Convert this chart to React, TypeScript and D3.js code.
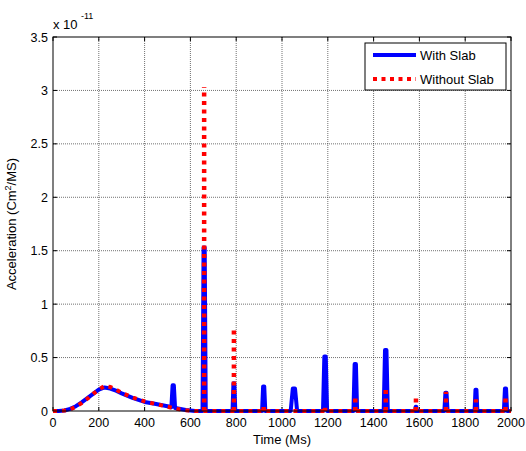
import React from "react";
import * as d3 from "d3";

// ---- data (units of 1e-11 Cm^2/MS, time in Ms) ----
const humpTimes = [0, 25, 50, 75, 100, 125, 150, 175, 200, 225, 250, 275, 300, 350, 400, 450, 500, 540, 580, 620];
const blueHump = [0, 0.001, 0.005, 0.02, 0.045, 0.08, 0.12, 0.16, 0.2, 0.22, 0.21, 0.19, 0.165, 0.12, 0.085, 0.065, 0.045, 0.025, 0.01, 0];
const redHump = [0, 0.001, 0.004, 0.015, 0.04, 0.075, 0.115, 0.16, 0.2, 0.235, 0.225, 0.2, 0.17, 0.125, 0.09, 0.065, 0.04, 0.02, 0.008, 0];

const spikeTimes = [525, 660, 790, 920, 1052, 1188, 1320, 1453, 1585, 1716, 1847, 1976];
const blueSpikes = [0.24, 1.53, 0.26, 0.23, 0.21, 0.51, 0.44, 0.57, 0.04, 0.17, 0.2, 0.21];
const blueSpikeHalfWidth = [8, 7, 6, 7, 14, 9, 8, 9, 4, 7, 6, 7];
const redSpikes = [0, 3.03, 0.76, 0.08, 0, 0.03, 0.13, 0.2, 0.13, 0.18, 0.11, 0.12];

const xTicks = [0, 200, 400, 600, 800, 1000, 1200, 1400, 1600, 1800, 2000];
const yTicks = [0, 0.5, 1, 1.5, 2, 2.5, 3, 3.5];
const yTickLabels = ["0", "0.5", "1", "1.5", "2", "2.5", "3", "3.5"];

const W = 526, H = 451;
const L = 53, R = 511, T = 37, B = 411;
const FONT = "Liberation Sans, Arial, sans-serif";

function humpAt(ts: number[], vs: number[], t: number) {
  if (t >= ts[ts.length - 1]) return 0;
  const i = d3.bisectRight(ts, t) - 1;
  const f = (t - ts[i]) / (ts[i + 1] - ts[i]);
  return vs[i] + f * (vs[i + 1] - vs[i]);
}

export default function App() {
  const x = d3.scaleLinear().domain([0, 2000]).range([L, R]);
  const y = d3.scaleLinear().domain([0, 3.5]).range([B, T]);
  const line = d3.line<[number, number]>().x((d) => x(d[0])).y((d) => y(d[1]));

  // blue series
  const bluePts: [number, number][] = [];
  humpTimes.forEach((t, i) => {
    const inSpike = spikeTimes.some((s, j) => Math.abs(t - s) <= blueSpikeHalfWidth[j]);
    if (!inSpike) bluePts.push([t, blueHump[i]]);
  });
  spikeTimes.forEach((s, j) => {
    const hw = blueSpikeHalfWidth[j];
    const b0 = humpAt(humpTimes, blueHump, s - hw);
    const b1 = humpAt(humpTimes, blueHump, s + hw);
    bluePts.push([s - hw, b0], [s - hw * 0.35, blueSpikes[j]], [s + hw * 0.35, blueSpikes[j]], [s + hw, b1]);
  });
  bluePts.push([2000, 0]);
  bluePts.sort((a, b) => a[0] - b[0]);

  // red series baseline/hump
  const redPts: [number, number][] = humpTimes.map((t, i) => [t, redHump[i]] as [number, number]);
  redPts.push([2000, 0]);

  return (
    <svg width={W} height={H} style={{ position: "absolute", left: 0, top: 0, background: "#fff" }} fontFamily={FONT}>
      <rect x={0} y={0} width={W} height={H} fill="#fff" />
      {/* grid */}
      {xTicks.slice(1, -1).map((t) => (
        <line key={"gx" + t} x1={x(t)} x2={x(t)} y1={T} y2={B} stroke="#333" strokeWidth={0.7} strokeDasharray="1,1" />
      ))}
      {yTicks.slice(1, -1).map((t) => (
        <line key={"gy" + t} x1={L} x2={R} y1={y(t)} y2={y(t)} stroke="#333" strokeWidth={0.7} strokeDasharray="1,1" />
      ))}
      {/* ticks */}
      {xTicks.map((t) => (
        <g key={"tx" + t}>
          <line x1={x(t)} x2={x(t)} y1={B} y2={B - 4} stroke="#000" />
          <line x1={x(t)} x2={x(t)} y1={T} y2={T + 4} stroke="#000" />
          <text x={x(t)} y={B + 16} fontSize={12.5} textAnchor="middle">{t}</text>
        </g>
      ))}
      {yTicks.map((t, i) => (
        <g key={"ty" + t}>
          <line x1={L} x2={L + 4} y1={y(t)} y2={y(t)} stroke="#000" />
          <line x1={R} x2={R - 4} y1={y(t)} y2={y(t)} stroke="#000" />
          <text x={L - 5} y={y(t) + 4.5} fontSize={12.5} textAnchor="end">{yTickLabels[i]}</text>
        </g>
      ))}
      {/* series */}
      <path d={line(bluePts) || ""} fill="none" stroke="#0000ff" strokeWidth={4} strokeLinejoin="round" />
      <path d={line(redPts) || ""} fill="none" stroke="#ff0000" strokeWidth={4} strokeDasharray="4,5" />
      {spikeTimes.map((s, j) =>
        redSpikes[j] > 0 ? (
          <line key={"rs" + s} x1={x(s)} x2={x(s)} y1={y(0)} y2={y(redSpikes[j])} stroke="#ff0000" strokeWidth={4.5} strokeDasharray="4,4.5" />
        ) : null
      )}
      {/* axes box */}
      <rect x={L} y={T} width={R - L} height={B - T} fill="none" stroke="#000" strokeWidth={1} />
      {/* exponent */}
      <text x={53} y={29} fontSize={13}>x 10</text>
      <text x={81} y={19} fontSize={9}>-11</text>
      {/* labels */}
      <text x={(L + R) / 2} y={444} fontSize={13} textAnchor="middle">Time (Ms)</text>
      <text transform={`translate(16,${(T + B) / 2}) rotate(-90)`} fontSize={13} textAnchor="middle">
        Acceleration (Cm<tspan dy={-5} fontSize={9}>2</tspan><tspan dy={5}>/MS)</tspan>
      </text>
      {/* legend */}
      <rect x={365} y={43} width={141} height={47} fill="#fff" stroke="#000" strokeWidth={1} />
      <line x1={373} x2={416} y1={55} y2={55} stroke="#0000ff" strokeWidth={4} />
      <line x1={373} x2={416} y1={79} y2={79} stroke="#ff0000" strokeWidth={4} strokeDasharray="4,4.5" />
      <text x={420} y={60} fontSize={13}>With Slab</text>
      <text x={420} y={84} fontSize={13}>Without Slab</text>
    </svg>
  );
}
